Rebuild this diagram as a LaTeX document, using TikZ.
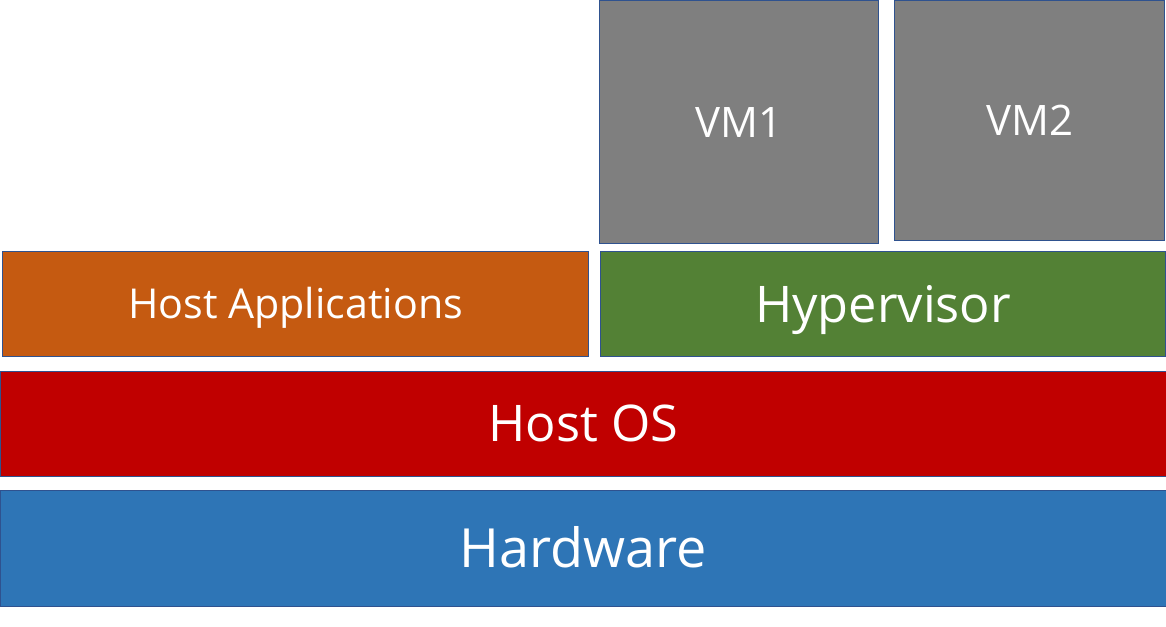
\documentclass[tikz,border=0pt]{standalone}
\usepackage{fontspec}
\setmainfont{Open Sans}
\definecolor{hwblue}{HTML}{2E75B6}
\definecolor{osred}{HTML}{C00000}
\definecolor{apporange}{HTML}{C55A11}
\definecolor{hvgreen}{HTML}{538135}
\definecolor{vmgray}{HTML}{7F7F7F}
\definecolor{edgeblue}{HTML}{2F528F}
\begin{document}
\begin{tikzpicture}[x=1pt,y=-1pt,
  layer/.style={draw=edgeblue, line width=1.2pt, text=white, inner sep=0pt, anchor=north west, text depth=0pt},
]
\useasboundingbox (0,0) rectangle (1166,626);
\node[layer, fill=vmgray, minimum width=279pt, minimum height=243pt, text height=30pt,
  font=\fontsize{42}{48}\selectfont] (vm1) at (599,0) {VM1};
\node[layer, fill=vmgray, minimum width=270pt, minimum height=240pt, text height=30pt,
  font=\fontsize{42}{48}\selectfont] (vm2) at (894,0) {VM2};
\node[layer, fill=apporange, minimum width=586pt, minimum height=105pt, text height=29pt,
  font=\fontsize{41.2}{48}\selectfont] (apps) at (2,251) {Host Applications};
\node[layer, fill=hvgreen, minimum width=565pt, minimum height=105pt, text height=36pt,
  font=\fontsize{50.5}{60}\selectfont] (hyp) at (600,251) {Hypervisor};
\node[layer, fill=osred, minimum width=1166pt, minimum height=105pt, text height=36pt,
  font=\fontsize{50.5}{60}\selectfont] (os) at (0,370.5) {Host OS};
\node[layer, fill=hwblue, minimum width=1166pt, minimum height=116pt, text height=38pt,
  font=\fontsize{54}{64}\selectfont] (hw) at (0,490) {Hardware};
\end{tikzpicture}
\end{document}
